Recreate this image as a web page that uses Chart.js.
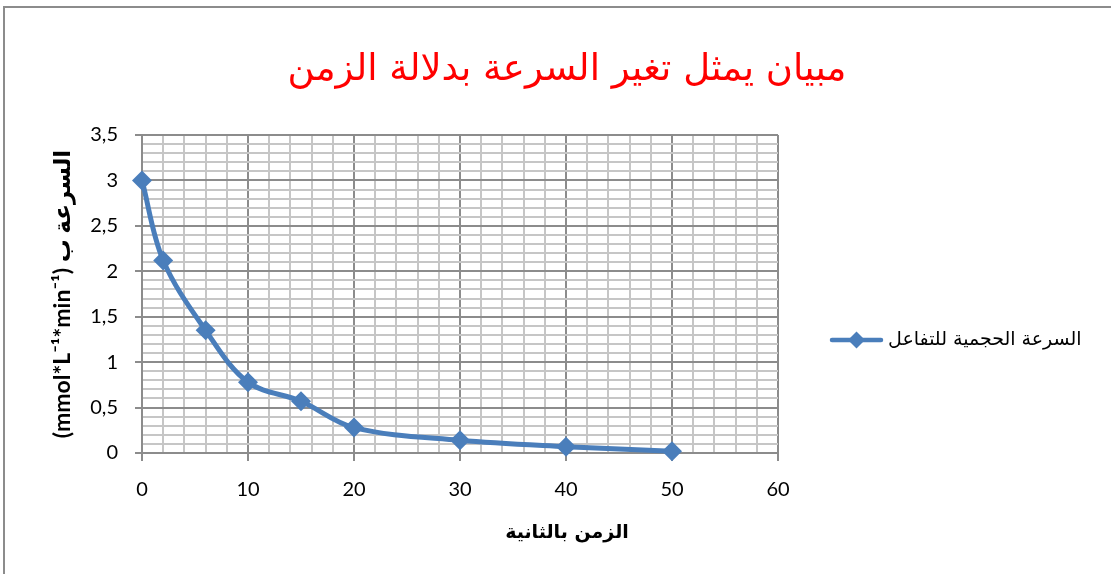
<!DOCTYPE html>
<html lang="ar">
<head>
<meta charset="utf-8">
<script src="https://cdn.jsdelivr.net/npm/chart.js@4.4.1/dist/chart.umd.min.js"></script>
<style>
  html, body { margin: 0; padding: 0; background: #fff; overflow: hidden; }
  body { direction: ltr; }
  #wrap { position: relative; width: 1111px; height: 574px; }
  #frame {
    position: absolute; left: 3px; top: 6px; width: 1200px; height: 700px;
    border-top: 2px solid #8c8c8c; border-left: 2px solid #8c8c8c;
    pointer-events: none;
  }
  canvas { position: absolute; left: 0; top: 0; }
</style>
</head>
<body>
<div id="wrap">
  <canvas id="chart" width="1111" height="574"></canvas>
  <div id="frame"></div>
</div>
<script>
// Reaction time (s) and volumetric rate of the reaction
const timeSec = [0, 2, 6, 10, 15, 20, 30, 40, 50];
const rateValues = [3.0, 2.12, 1.35, 0.78, 0.57, 0.28, 0.14, 0.07, 0.02];

// Major tick labels (comma decimal separator)
const xTickLabels = ['0', '10', '20', '30', '40', '50', '60'];
const yTickLabels = ['0', '0,5', '1', '1,5', '2', '2,5', '3', '3,5'];

const titleText = 'مبيان يمثل تغير السرعة بدلالة الزمن';
const xTitleText = 'الزمن بالثانية';
const yTitleText = '(mmol*L⁻¹*min⁻¹) السرعة ب';
const seriesName = 'السرعة الحجمية للتفاعل';

const BLUE = '#4a7ebb';
const MAJOR = '#8c8c8c';
const MINOR = '#c6c6c6';

const ARABIC = "'DejaVu Sans', sans-serif";
const LEGEND_FONT = 19;
const LEGEND_PAD = 56.5;
const MARKER_BOX = 44;

// legend marker: line with a diamond in the middle
function makeMarker() {
  const c = document.createElement('canvas');
  c.width = 55; c.height = 20;
  const g = c.getContext('2d');
  g.strokeStyle = BLUE; g.lineWidth = 4.5; g.lineCap = 'round';
  g.beginPath(); g.moveTo(3, 10); g.lineTo(52, 10); g.stroke();
  g.fillStyle = BLUE;
  g.beginPath(); g.moveTo(27.5, 1.5); g.lineTo(36, 10); g.lineTo(27.5, 18.5); g.lineTo(19, 10); g.closePath(); g.fill();
  return c;
}

const isMajorX = v => Math.round(v) % 10 === 0;
const isMajorY = v => Math.round(v * 10) % 5 === 0;

function draw() {
  Chart.defaults.font.family = "Lato, 'DejaVu Sans', sans-serif";
  Chart.defaults.color = '#000';

  // size the side paddings so the plot spans x 142..778 and titles centre at 567
  const probe = document.createElement('canvas').getContext('2d');
  probe.font = LEGEND_FONT + 'px ' + ARABIC;
  const legendText = probe.measureText(seriesName).width;
  const legendWidth = LEGEND_PAD + MARKER_BOX + LEGEND_FONT / 2 + legendText + 10;
  const padR = Math.max(0, 1111 - 778 - legendWidth);
  const padL = 2 * 567 - (1111 - padR);
  const yTitleSize = 23;
  const yTitleLine = yTitleSize * 1.2;

  new Chart(document.getElementById('chart'), {
    type: 'line',
    data: {
      datasets: [{
        label: seriesName,
        data: timeSec.map((t, i) => ({ x: t, y: rateValues[i] })),
        borderColor: BLUE,
        backgroundColor: BLUE,
        borderWidth: 5,
        tension: 0.35,
        pointStyle: 'rectRot',
        pointRadius: 10,
        pointHoverRadius: 10,
        pointBackgroundColor: BLUE,
        pointBorderColor: BLUE,
        pointBorderWidth: 0,
        clip: false
      }]
    },
    options: {
      responsive: false,
      animation: false,
      events: [],
      layout: { padding: { left: padL, right: padR, top: 0, bottom: 0 } },
      plugins: {
        tooltip: { enabled: false },
        title: {
          display: true,
          text: titleText,
          color: '#ff0000',
          font: { family: ARABIC, size: 37, weight: 'normal' },
          padding: { top: 47.8, bottom: 42.8 }
        },
        subtitle: {
          display: true,
          position: 'bottom',
          text: xTitleText,
          color: '#000',
          font: { family: ARABIC, size: 19, weight: 'bold' },
          padding: { top: 8.6, bottom: 29.6 }
        },
        legend: {
          display: true,
          position: 'right',
          align: 'start',
          fullSize: true,
          maxWidth: 420,
          title: { display: true, text: '', font: { size: 12 }, padding: { top: 259.6, bottom: 0 } },
          labels: {
            usePointStyle: true,
            pointStyle: makeMarker(),
            pointStyleWidth: MARKER_BOX,
            padding: LEGEND_PAD,
            color: '#000',
            font: { family: ARABIC, size: LEGEND_FONT }
          }
        }
      },
      scales: {
        x: {
          type: 'linear',
          min: 0, max: 60,
          afterFit: s => { s.height = 60; },
          ticks: {
            stepSize: 2,
            autoSkip: false,
            maxRotation: 0,
            padding: 17,
            font: { size: 20 },
            color: '#000',
            callback: v => isMajorX(v) ? xTickLabels[Math.round(v) / 10] : ''
          },
          grid: {
            color: c => isMajorX(c.tick.value) ? MAJOR : MINOR,
            lineWidth: 2,
            tickLength: 8,
            tickColor: c => isMajorX(c.tick.value) ? MAJOR : 'rgba(0,0,0,0)',
            tickWidth: 2
          },
          border: { color: MAJOR, width: 2 }
        },
        y: {
          type: 'linear',
          min: 0, max: 3.5,
          afterFit: s => { s.width = 142 - padL; },
          title: {
            display: true,
            text: yTitleText,
            color: '#000',
            font: { size: yTitleSize, weight: 'bold' },
            padding: { top: 63 - padL - yTitleLine / 2, bottom: 0 }
          },
          ticks: {
            stepSize: 0.1,
            autoSkip: false,
            padding: 17,
            font: { size: 20 },
            color: '#000',
            callback: v => isMajorY(v) ? yTickLabels[Math.round(v * 2)] : ''
          },
          grid: {
            color: c => isMajorY(c.tick.value) ? MAJOR : MINOR,
            lineWidth: 2,
            tickLength: 7,
            tickColor: c => isMajorY(c.tick.value) ? MAJOR : 'rgba(0,0,0,0)',
            tickWidth: 2
          },
          border: { color: MAJOR, width: 2 }
        }
      }
    }
  });
}

const fontJobs = [
  document.fonts.load('37px ' + ARABIC, titleText),
  document.fonts.load('bold 19px ' + ARABIC, xTitleText),
  document.fonts.load(LEGEND_FONT + 'px ' + ARABIC, seriesName),
  document.fonts.load('bold 23px Lato', 'mmol'),
  document.fonts.load('20px Lato', '0123456789,')
];
Promise.all(fontJobs).then(draw, draw);
</script>
</body>
</html>
